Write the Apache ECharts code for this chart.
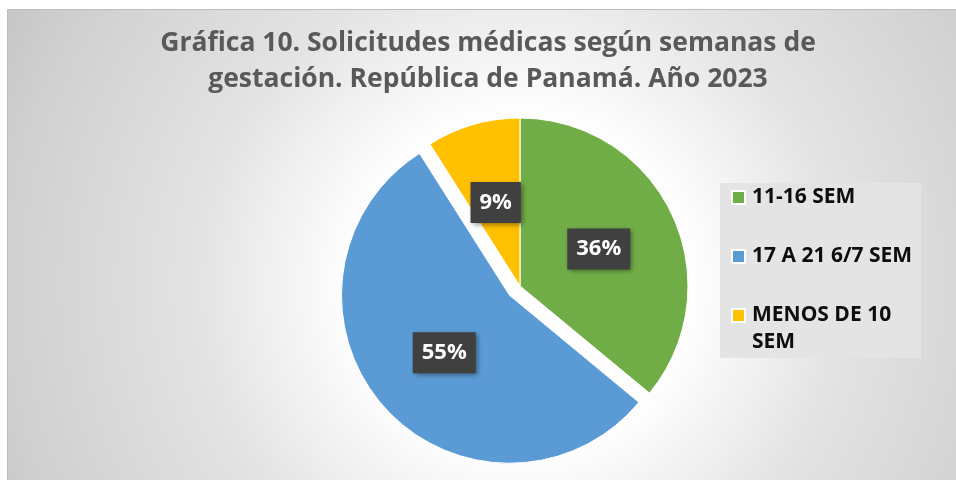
<!DOCTYPE html>
<html>
<head>
<meta charset="utf-8">
<script src="https://cdn.jsdelivr.net/npm/echarts@6/dist/echarts.min.js"></script>
<style>
  html, body { margin: 0; padding: 0; background: #ffffff; }
  #chart { width: 956px; height: 480px; }
</style>
</head>
<body>
<div id="chart"></div>
<script>
// ---- Data ----
var titleText = 'Gráfica 10. Solicitudes médicas según semanas de\ngestación. República de Panamá. Año 2023';
var categories = ['11-16 SEM', '17 A 21 6/7 SEM', 'MENOS DE 10 SEM'];
var values = [36, 55, 9];          // percent
var colors = ['#70AD47', '#5B9BD5', '#FFC000'];
var explodedIndex = 1;

// ---- helpers ----
var legendFont = 'bold 21px "Open Sans"';
var legendMaxWidth = 175;
var measureCtx = document.createElement('canvas').getContext('2d');
function wrapName(name) {
  measureCtx.font = legendFont;
  var words = name.split(' ');
  var lines = [];
  var cur = '';
  words.forEach(function (w) {
    var test = cur ? cur + ' ' + w : w;
    if (cur && measureCtx.measureText(test).width > legendMaxWidth) {
      lines.push(cur);
      cur = w;
    } else {
      cur = test;
    }
  });
  if (cur) lines.push(cur);
  return lines;
}

var seriesData = categories.map(function (c, i) {
  return {
    name: c,
    value: values[i],
    selected: i === explodedIndex,
    itemStyle: { color: colors[i] }
  };
});

var chart = echarts.init(document.getElementById('chart'), null, { renderer: 'canvas' });
chart.setOption({
  animation: false,
  graphic: [
    {
      type: 'rect',
      z: -10,
      silent: true,
      shape: { x: 7.5, y: 9.5, width: 960, height: 480 },
      style: {
        fill: {
          type: 'radial', x: 520, y: 285, r: 590, global: true,
          colorStops: [
            { offset: 0, color: '#ffffff' },
            { offset: 0.3, color: '#fdfdfd' },
            { offset: 0.55, color: '#e3e3e3' },
            { offset: 0.87, color: '#d0d0d0' },
            { offset: 1, color: '#c5c5c5' }
          ]
        },
        stroke: '#bdbdbd',
        lineWidth: 1
      }
    },
    {
      type: 'rect',
      z: 1,
      silent: true,
      shape: { x: 720, y: 183, width: 201, height: 175 },
      style: { fill: '#e4e4e4' }
    }
  ],
  title: {
    text: titleText,
    left: 488,
    top: 25,
    textAlign: 'center',
    padding: 0,
    textStyle: {
      fontFamily: '"Open Sans", sans-serif',
      fontWeight: 'bold',
      fontSize: 26.5,
      lineHeight: 36,
      color: '#595959'
    }
  },
  legend: {
    orient: 'vertical',
    left: 731,
    top: 157,
    padding: 0,
    itemWidth: 13,
    itemHeight: 13,
    itemGap: -22,
    icon: 'rect',
    selectedMode: false,
    data: categories,
    formatter: function (name) {
      var lines = wrapName(name);
      if (lines.length === 1) return '\n' + lines[0] + '\n ';
      return '\n' + lines.join('\n');
    },
    textStyle: {
      fontFamily: '"Open Sans", sans-serif',
      fontWeight: 'bold',
      fontSize: 21,
      lineHeight: 27,
      color: '#0d0d0d',
      padding: [0, 0, 0, 2]
    }
  },
  series: [
    {
      type: 'pie',
      center: [520, 286],
      radius: 168,
      startAngle: 90,
      clockwise: true,
      selectedMode: 'single',
      selectedOffset: 14,
      avoidLabelOverlap: false,
      itemStyle: { borderColor: '#ffffff', borderWidth: 1 },
      emphasis: { disabled: true },
      label: {
        show: true,
        position: 'inside',
        formatter: '{c}%',
        color: '#ffffff',
        fontFamily: '"Open Sans", sans-serif',
        fontWeight: 'bold',
        fontSize: 22,
        lineHeight: 25,
        backgroundColor: '#404040',
        padding: [8, 9, 8, 9],
        shadowColor: 'rgba(0,0,0,0.45)',
        shadowBlur: 5,
        shadowOffsetX: 2,
        shadowOffsetY: 2
      },
      labelLine: { show: false },
      data: seriesData
    }
  ]
});
</script>
</body>
</html>
